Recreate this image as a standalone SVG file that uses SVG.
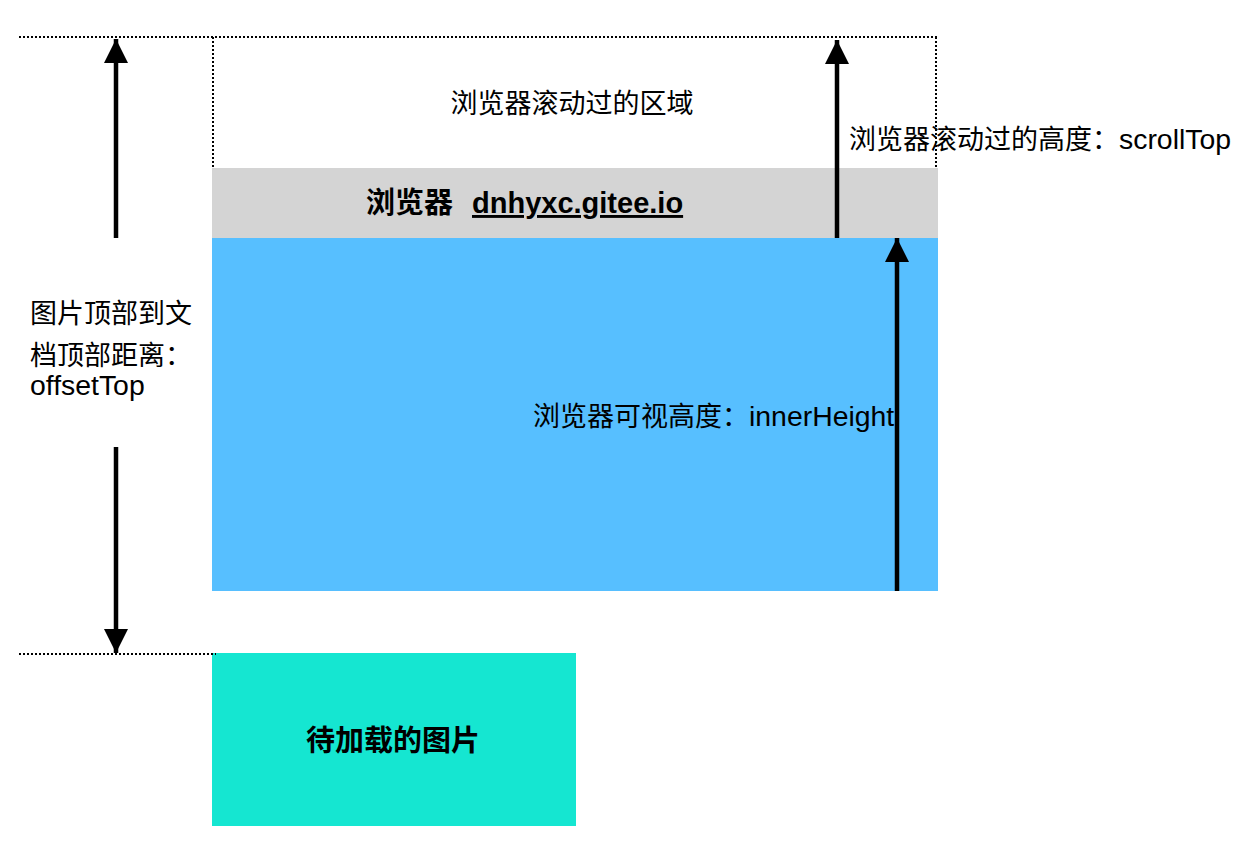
<svg xmlns="http://www.w3.org/2000/svg" width="1260" height="862" viewBox="0 0 1260 862">
<style>
.t{font-family:"Liberation Sans","Noto Sans CJK SC",sans-serif;font-size:27px;fill:#000}
.b{font-family:"Liberation Sans","Noto Sans CJK SC",sans-serif;font-size:29px;font-weight:bold;fill:#000}
.l{font-size:28.4px}
.dot{stroke:#000;stroke-width:2;stroke-dasharray:2 2;fill:none;shape-rendering:crispEdges}
.ar{stroke:#000;stroke-width:4.5;fill:none}
</style>
<defs>
<marker id="ah" viewBox="0 0 24 24" refX="24" refY="12" markerWidth="24" markerHeight="24" markerUnits="userSpaceOnUse" orient="auto">
<path d="M0,0 L24,12 L0,24 Z" fill="#000"/>
</marker>
</defs>
<rect width="1260" height="862" fill="#fff"/>
<g id="scrolled-area">
<text class="t" x="572" y="113" text-anchor="middle">浏览器滚动过的区域</text>
</g>
<g id="browser-bar">
<rect x="212" y="168" width="726" height="70" fill="#D4D4D4"/>
<text class="b" x="366" y="213">浏览器</text>
<text class="b" x="472" y="213" text-decoration="underline">dnhyxc.gitee.io</text>
</g>
<g id="viewport">
<rect x="212" y="238" width="726" height="353" fill="#57BFFF"/>
<text class="t" x="533" y="426">浏览器可视高度：<tspan class="l">innerHeight</tspan></text>
</g>
<g id="image">
<rect x="212" y="653" width="364" height="173" fill="#15E6D1"/>
<text class="b" x="393" y="751" text-anchor="middle">待加载的图片</text>
</g>
<g id="labels">
<text class="t" x="849" y="149">浏览器滚动过的高度：<tspan class="l">scrollTop</tspan></text>
<text class="t" x="30" y="323">图片顶部到文</text>
<text class="t" x="30" y="365">档顶部距离：</text>
<text class="t" x="30" y="395"><tspan class="l">offsetTop</tspan></text>
</g>
<g id="connectors">
<path class="dot" d="M19,37 H938"/>
<path class="dot" d="M213,37 V168"/>
<path class="dot" d="M936,37 V168"/>
<path class="dot" d="M19,654 H216"/>
<path class="ar" d="M116,238 V39" marker-end="url(#ah)"/>
<path class="ar" d="M116,447 V653" marker-end="url(#ah)"/>
<path class="ar" d="M837,238 V40" marker-end="url(#ah)"/>
<path class="ar" d="M897,591 V238" marker-end="url(#ah)"/>
</g>
</svg>
